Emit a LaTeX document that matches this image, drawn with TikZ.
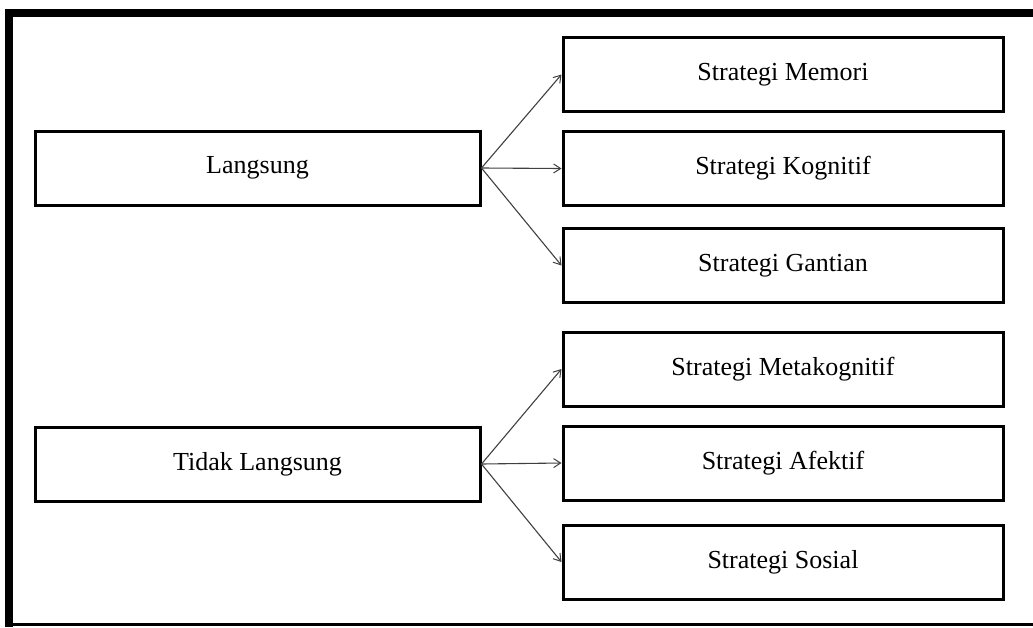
\documentclass[tikz,border=0pt]{standalone}
\usepackage{fontspec}
\setmainfont{Liberation Serif}
\usetikzlibrary{arrows.meta}
\begin{document}
\begin{tikzpicture}[x=1pt,y=-1pt,
  boxl/.style={draw=black,line width=3pt,minimum width=445pt,minimum height=74pt,inner sep=0pt,font=\fontsize{26}{30}\selectfont},
  boxr/.style={draw=black,line width=3pt,minimum width=440pt,minimum height=74pt,inner sep=0pt,font=\fontsize{26}{30}\selectfont},
  arr/.style={draw=black!75,line width=1.1pt,-{Straight Barb[length=7pt,width=9pt,line width=1pt]}}]
\useasboundingbox (0,0) rectangle (1033,627);
% frame
\fill[black] (5,9) rectangle (1033,17);
\fill[black] (5,9) rectangle (13,627);
\draw[line width=2.5pt] (5,624.5) -- (1033,624.5);
% left nodes
\node[boxl] (L) at (257.5,168) {Langsung};
\node[boxl] (T) at (257.5,464) {Tidak Langsung};
% right nodes
\node[boxr] (m1) at (783,74.5) {Strategi Memori};
\node[boxr] (m2) at (783,168.5) {Strategi Kognitif};
\node[boxr] (m3) at (783,265.5) {Strategi Gantian};
\node[boxr] (m4) at (783,369) {Strategi Metakognitif};
\node[boxr] (m5) at (783,463) {Strategi Afektif};
\node[boxr] (m6) at (783,562) {Strategi Sosial};
% arrows
\foreach \t in {m1,m2,m3} \draw[arr] (L.east) -- (\t.west);
\foreach \t in {m4,m5,m6} \draw[arr] (T.east) -- (\t.west);
\end{tikzpicture}
\end{document}
